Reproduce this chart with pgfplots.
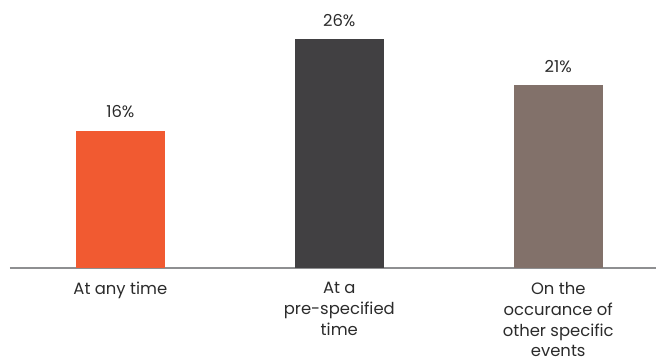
\documentclass[border=0pt]{standalone}
\usepackage{pgfplots}
\pgfplotsset{compat=1.18}
\usepackage{fontspec}
\setmainfont{Poppins}
\definecolor{cOrange}{HTML}{F15A31}
\definecolor{cDark}{HTML}{414042}
\definecolor{cTaupe}{HTML}{82716A}
\definecolor{cText}{HTML}{2B2B2B}
\definecolor{cAxis}{HTML}{8E8F91}
\begin{document}
\begin{tikzpicture}
\begin{axis}[
  scale only axis,
  width=647bp, height=268bp,
  xmin=-0.504, xmax=2.447,
  ymin=0, ymax=30.7,
  axis x line*=bottom,
  axis y line=none,
  x axis line style={draw=cAxis, line width=1.8bp, -},
  xtick={0,1,2},
  xtick style={draw=none},
  xticklabels={At any time,{At a\\pre-specified\\time},{On the\\occurance of\\other specific\\events}},
  xticklabel style={align=center, font=\fontsize{16.5}{21}\selectfont, text=cText, anchor=north, inner sep=0pt, yshift=-10bp},
  ybar, bar width=89bp, bar shift=0pt,
  every node near coord/.append style={font=\fontsize{16.5}{18}\selectfont, text=cText, anchor=base, inner sep=0pt, yshift=13bp},
  clip=false,
]
\addplot[fill=cOrange, draw=none, nodes near coords={16\%}] coordinates {(0,15.7)};
\addplot[fill=cDark, draw=none, nodes near coords={26\%}] coordinates {(1,26.2)};
\addplot[fill=cTaupe, draw=none, nodes near coords={21\%}] coordinates {(2,20.95)};
\end{axis}
\path (current axis.south west) ++(-10bp,-94bp);
\path (current axis.north west) ++(-10bp,0);
\end{tikzpicture}
\end{document}
